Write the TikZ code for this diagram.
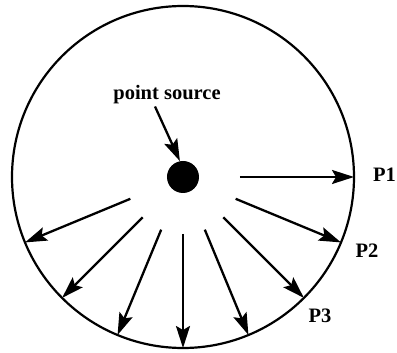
\documentclass[tikz,border=0pt]{standalone}
\usepackage{fontspec}
\setmainfont{Liberation Serif}
\usetikzlibrary{arrows.meta, positioning, calc}

\begin{document}
\begin{tikzpicture}[
    x=1pt, y=1pt,
    ray/.style={-{Stealth[length=22pt, width=14pt, inset=4pt]}, line width=2.3pt},
    plabel/.style={font=\fontsize{20.5}{24}\selectfont\bfseries, inner sep=0pt}
  ]
  \useasboundingbox (-183,-176) rectangle (214,177);

  % sphere and source
  \draw[line width=2.2pt] (0,0) circle (171);
  \node[circle, fill=black, minimum size=32pt, inner sep=0pt] (dot) at (0,0) {};
  \node[plabel] (src) at (-16,82) {point source};
  \draw[ray] ([xshift=-12pt, yshift=-2pt]src.south) -- (dot.101);

  % rays to the sphere
  \foreach \a [count=\i] in {0,-22.5,-45,-67.5,-90,-112.5,-135,-157.5} {
    \coordinate (s\i) at (\a:57);
    \coordinate (p\i) at (\a:171);
    \draw[ray] (s\i) -- (p\i);
  }

  \node[plabel, anchor=west] (lab1) at ([xshift=19pt, yshift=2pt]p1) {P1};
  \node[plabel] (lab2) at ([xshift=26pt, yshift=-8pt]p2) {P2};
  \node[plabel] (lab3) at ([xshift=16pt, yshift=-18pt]p3) {P3};

\end{tikzpicture}
\end{document}
